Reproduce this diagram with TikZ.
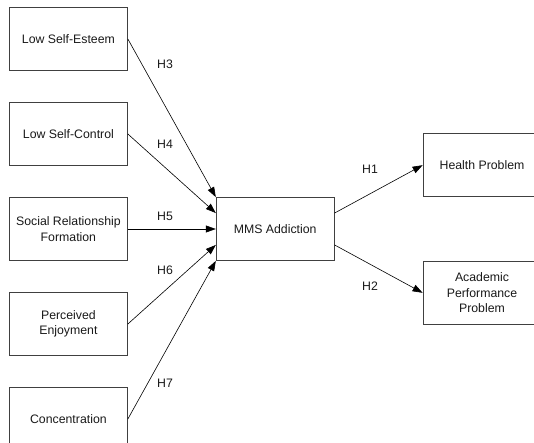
\documentclass[tikz,border=0pt]{standalone}
\usepackage{fontspec}
\setmainfont{Liberation Sans}
\usetikzlibrary{arrows.meta,positioning,calc}

\begin{document}
\begin{tikzpicture}[
    x=1pt, y=-1pt,
    font=\fontsize{12.3}{15.5}\selectfont,
    node distance=31.25pt and 88pt,
    box/.style={draw=black!75, line width=0.8pt, align=center, minimum width=118pt, minimum height=63pt, inner sep=2pt, text=black!90},
    lbl/.style={text=black!90, inner sep=1pt},
    arr/.style={-{Triangle[length=10pt, width=7pt]}, line width=0.6pt}
]
\useasboundingbox (0,0) rectangle (534,443);
\clip (0,0) rectangle (534,443);

% Antecedents
\node[box, anchor=north west] (esteem) at (9,7) {Low Self-Esteem};
\node[box, below=of esteem] (control) {Low Self-Control};
\node[box, below=of control] (social) {Social Relationship\\Formation};
\node[box, below=of social] (enjoy) {Perceived\\Enjoyment};
\node[box, below=of enjoy] (concent) {Concentration};

% Addiction and outcomes
\node[box, right=of social] (mms) {MMS Addiction};
\node[box, right=of mms.north east, anchor=south west] (health) {Health Problem};
\node[box, right=of mms.south east, anchor=north west] (academic) {Academic\\Performance\\Problem};

\draw[arr] (esteem.east) -- (mms.north west);
\draw[arr] (control.east) -- ($(mms.north west)!0.25!(mms.south west)$);
\draw[arr] (social.east) -- (mms.west);
\draw[arr] (enjoy.east) -- ($(mms.north west)!0.75!(mms.south west)$);
\draw[arr] (concent.east) -- (mms.south west);
\draw[arr] ($(mms.north east)!0.25!(mms.south east)$) -- (health.west);
\draw[arr] ($(mms.north east)!0.75!(mms.south east)$) -- (academic.west);

% Hypotheses
\node[lbl] (h3) at (165,64) {H3};
\node[lbl] (h4) at (165,144) {H4};
\node[lbl] (h5) at (165,216) {H5};
\node[lbl] (h6) at (165,270) {H6};
\node[lbl] (h7) at (165,383) {H7};
\node[lbl] (h1) at (370,169) {H1};
\node[lbl] (h2) at (370,286) {H2};
\end{tikzpicture}
\end{document}
